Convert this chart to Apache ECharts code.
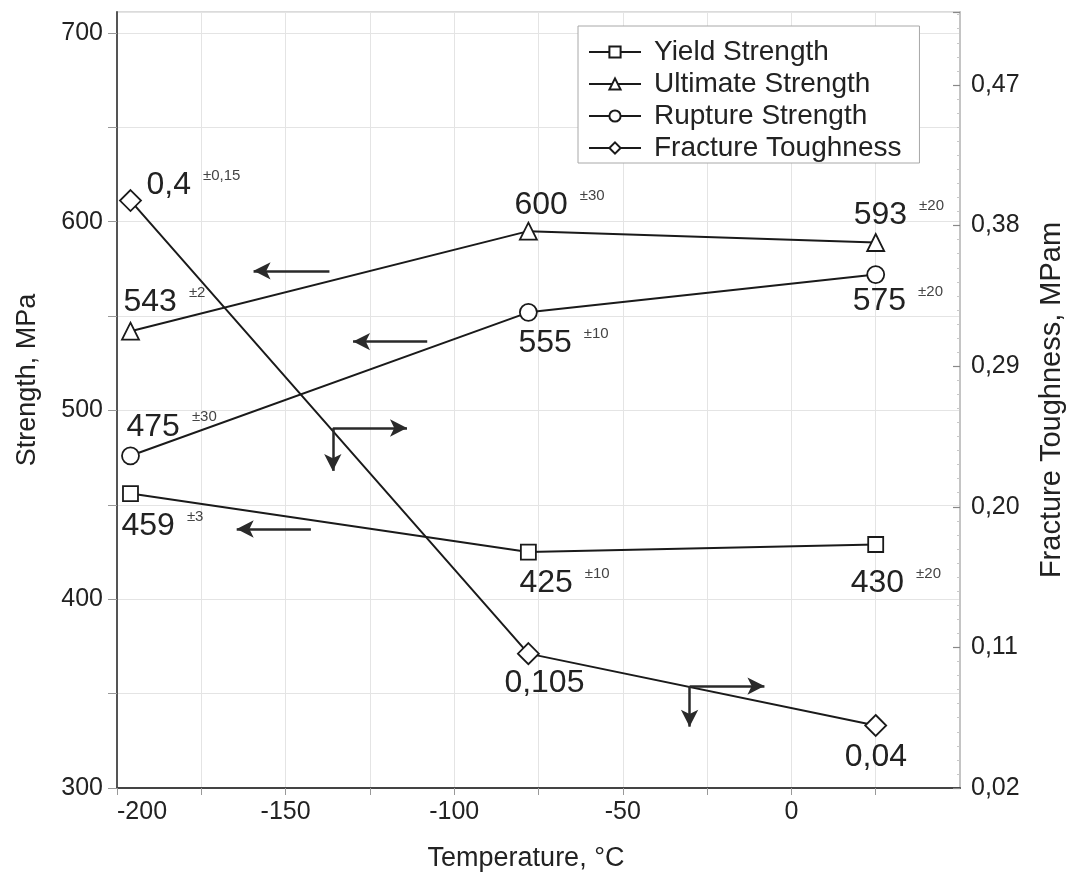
<!DOCTYPE html>
<html>
<head>
<meta charset="utf-8">
<script src="https://cdn.jsdelivr.net/npm/echarts@6/dist/echarts.min.js"></script>
<style>html,body{margin:0;padding:0;background:#fff}#c{width:1076px;height:878px}</style>
</head>
<body>
<div id="c"></div>
<script>
// ---- data ----
const temps = [-196, -78, 25];
const yieldVals = [456, 425, 429];
const ultimateVals = [542, 595, 589];
const ruptureVals = [476, 552, 572];
const toughVals = [0.396, 0.106, 0.060];

const yieldText = ['459', '425', '430'];
const yieldErr = ['±3', '±10', '±20'];
const ultimateText = ['543', '600', '593'];
const ultimateErr = ['±2', '±30', '±20'];
const ruptureText = ['475', '555', '575'];
const ruptureErr = ['±30', '±10', '±20'];
const toughText = ['0,4', '0,105', '0,04'];
const toughErr = ['±0,15', '', ''];

const seriesNames = ['Yield Strength', 'Ultimate Strength', 'Rupture Strength', 'Fracture Toughness'];

// annotation arrows (temperature, strength) : start -> end (arrowhead at end)
const arrowSegs = [
  [[-137, 574], [-159.5, 574]],
  [[-108, 536.5], [-130, 536.5]],
  [[-136, 490.7], [-114, 490.7]],
  [[-136, 490.7], [-136, 468]],
  [[-142.5, 437.2], [-164.5, 437.2]],
  [[-30.2, 354], [-8, 354]],
  [[-30.2, 354], [-30.2, 332.5]]
];

// ---- styles ----
const FONT = '"Liberation Sans", Arial, Helvetica, sans-serif';
const INK = '#1a1a1a';
const labelOffsets = {
  yield: [[-9, 33], [-9, 31], [-25, 39]],
  ultimate: [[-7, -29], [-14, -26], [-22, -27]],
  rupture: [[-4, -29], [-10, 31], [-23, 27]],
  tough: [[16, -15], [-24, 30], [-31, 32]]
};
const rich = {
  v: {fontSize: 32, lineHeight: 34, color: '#222', fontFamily: FONT},
  s: {fontSize: 15, lineHeight: 34, color: '#444', fontFamily: FONT, verticalAlign: 'top', padding: [0, 0, 0, 12]}
};

function buildData(vals, texts, errs, offs) {
  return temps.map((t, i) => ({
    value: [t, vals[i]],
    label: {
      show: true,
      position: 'inside',
      align: 'left',
      verticalAlign: 'middle',
      offset: offs[i],
      formatter: errs[i] ? '{v|' + texts[i] + '}{s|' + errs[i] + '}' : '{v|' + texts[i] + '}',
      rich: rich
    }
  }));
}

function lineSeries(name, symbol, size, data, yAxisIndex, extra) {
  return Object.assign({
    name: name,
    type: 'line',
    yAxisIndex: yAxisIndex,
    symbol: symbol,
    symbolSize: size,
    showAllSymbol: true,
    data: data,
    lineStyle: {color: INK, width: 2},
    itemStyle: {color: '#fff', borderColor: INK, borderWidth: 1.8},
    emphasis: {disabled: true},
    z: 3
  }, extra || {});
}

const chart = echarts.init(document.getElementById('c'), null, {renderer: 'canvas'});
const option = {
  animation: false,
  backgroundColor: '#fff',
  textStyle: {fontFamily: FONT},
  grid: {left: 117, right: 116, top: 12, bottom: 90, show: true, borderColor: '#cfcfcf', borderWidth: 1.5, backgroundColor: 'transparent'},
  legend: {
    orient: 'vertical',
    left: 578,
    top: 26,
    padding: [12, 18, 1, 10],
    itemWidth: 52,
    itemHeight: 14,
    itemGap: 4,
    borderColor: '#a8a8a8',
    borderWidth: 1,
    backgroundColor: '#fff',
    textStyle: {fontSize: 28, lineHeight: 28, color: '#222', fontFamily: FONT, padding: [0, 0, 0, 8]},
    data: seriesNames
  },
  xAxis: {
    type: 'value',
    min: -200,
    max: 50,
    interval: 25,
    name: 'Temperature, °C',
    nameLocation: 'middle',
    nameGap: 57,
    nameTextStyle: {fontSize: 27, color: '#222', fontFamily: FONT, padding: [0, 25, 0, 0]},
    axisLine: {show: true, onZero: false, lineStyle: {color: '#444', width: 2}},
    axisTick: {show: true, inside: false, length: 7, lineStyle: {color: '#999'}},
    axisLabel: {
      fontSize: 25, color: '#222', margin: 12, fontFamily: FONT,
      alignMinLabel: 'left',
      showMaxLabel: false,
      formatter: v => (v % 50 === 0 && v !== 50 ? String(v) : '')
    },
    splitLine: {show: true, lineStyle: {color: '#e4e4e4', width: 1}}
  },
  yAxis: [
    {
      type: 'value',
      position: 'left',
      min: 300,
      max: 711.1,
      interval: 50,
      name: 'Strength, MPa',
      nameLocation: 'middle',
      nameRotate: 90,
      nameGap: 76,
      nameTextStyle: {fontSize: 27, color: '#222', fontFamily: FONT, padding: [0, 0, 0, 40]},
      axisLine: {show: true, onZero: false, lineStyle: {color: '#555', width: 2}},
      axisTick: {show: true, inside: false, length: 9, lineStyle: {color: '#999'}},
      axisLabel: {
        fontSize: 25, color: '#222', margin: 14, fontFamily: FONT,
        showMaxLabel: false,
        formatter: v => (Math.abs(v % 100) < 1e-6 ? String(v) : '')
      },
      splitLine: {show: true, lineStyle: {color: '#e4e4e4', width: 1}}
    },
    {
      type: 'value',
      position: 'right',
      min: 0.02,
      max: 0.5167,
      interval: 0.09,
      name: 'Fracture Toughness, MPam',
      nameLocation: 'middle',
      nameRotate: 90,
      nameGap: 77,
      nameTextStyle: {fontSize: 29, color: '#222', fontFamily: FONT},
      axisLine: {show: true, onZero: false, lineStyle: {color: '#c4c4c4', width: 2}},
      axisTick: {show: true, inside: true, length: 7, lineStyle: {color: '#888', width: 1.2}},
      minorTick: {show: true, splitNumber: 10, length: 3, lineStyle: {color: '#c8c8c8'}},
      axisLabel: {
        fontSize: 25, color: '#222', margin: 11, fontFamily: FONT,
        showMaxLabel: false,
        formatter: v => {
          const k = Math.round((v - 0.02) / 0.09);
          if (Math.abs(v - (0.02 + k * 0.09)) > 1e-6) return '';
          return v.toFixed(2).replace('.', ',');
        }
      },
      splitLine: {show: false}
    }
  ],
  series: [
    lineSeries(seriesNames[0], 'rect', 15, buildData(yieldVals, yieldText, yieldErr, labelOffsets.yield), 0, {
      markLine: {
        silent: true,
        animation: false,
        symbol: ['none', 'arrow'],
        symbolSize: [13, 17],
        lineStyle: {color: '#2a2a2a', width: 2.5, type: 'solid'},
        label: {show: false},
        emphasis: {disabled: true},
        data: arrowSegs.map(s => [{coord: s[0]}, {coord: s[1]}])
      }
    }),
    lineSeries(seriesNames[1], 'triangle', 17, buildData(ultimateVals, ultimateText, ultimateErr, labelOffsets.ultimate), 0),
    lineSeries(seriesNames[2], 'circle', 17, buildData(ruptureVals, ruptureText, ruptureErr, labelOffsets.rupture), 0),
    lineSeries(seriesNames[3], 'diamond', 21, buildData(toughVals, toughText, toughErr, labelOffsets.tough), 1)
  ]
};
chart.setOption(option);
</script>
</body>
</html>
